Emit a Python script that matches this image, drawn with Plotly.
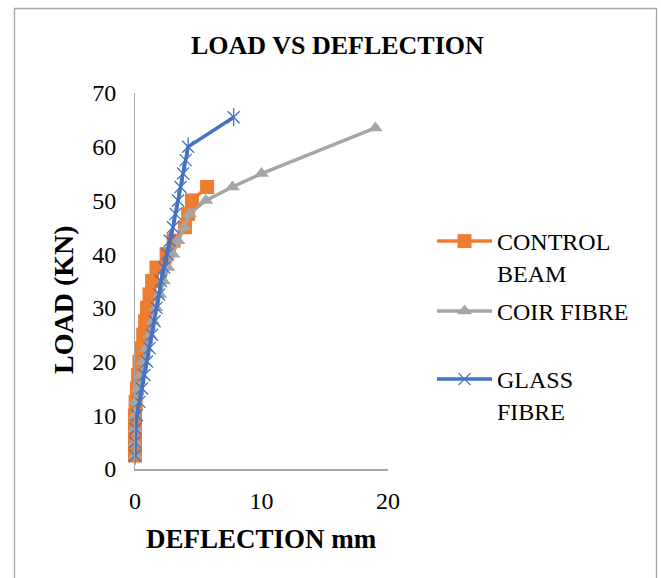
import plotly.graph_objects as go

# ---- data ----
control_load = [2.5, 5, 7.5, 10, 12.5, 15, 17.5, 20, 22.5, 25, 27.5, 30, 32.5, 35,
                37.5, 40, 42.5, 45, 47.5, 50, 52.5]
control_defl = [0, 0, 0, 0, 0.05, 0.15, 0.25, 0.35, 0.5, 0.65, 0.8, 0.95, 1.15, 1.35,
                1.7, 2.5, 3.05, 3.95, 4.2, 4.5, 5.7]

coir_load = [2.5, 5, 7.5, 10, 12.5, 15, 17.5, 20, 22.5, 25, 27.5, 30, 32.5, 35,
             37.5, 40, 42.5, 45, 47.5, 50, 52.5, 55, 63.5]
coir_defl = [0, 0, 0, 0, 0.05, 0.25, 0.45, 0.65, 0.9, 1.15, 1.4, 1.65, 1.95, 2.25,
             2.6, 3.0, 3.4, 3.9, 4.3, 5.6, 7.7, 10.0, 19.0]

glass_load = [2.5, 5, 7.5, 10, 12.5, 15, 17.5, 20, 22.5, 25, 27.5, 30, 32.5, 35,
              37.5, 40, 42.5, 45, 47.5, 50, 52.5, 55, 57.5, 60, 65.5]
glass_defl = [0, 0, 0.05, 0.15, 0.35, 0.55, 0.75, 0.95, 1.15, 1.35, 1.55, 1.7, 1.9, 2.05,
              2.3, 2.55, 2.75, 3.0, 3.2, 3.4, 3.6, 3.8, 4.0, 4.2, 7.8]

series_names = ["CONTROL<br>BEAM", "COIR FIBRE", "GLASS<br>FIBRE"]
x_ticks = [0, 10, 20]
y_ticks = [0, 10, 20, 30, 40, 50, 60, 70]

ORANGE = "#ED7D31"
GRAY = "#A5A5A5"
BLUE = "#4472C4"
FONT = "Liberation Serif, Times New Roman, serif"

W, H = 661, 578
L, R, T, B = 135, 273, 93, 109
PW, PH = W - L - R, H - T - B


def px(xp):
    return (xp - L) / PW


def py(yp):
    return (H - B - yp) / PH


fig = go.Figure()

fig.add_trace(go.Scatter(
    x=control_defl, y=control_load, name=series_names[0], mode="lines+markers",
    line=dict(color=ORANGE, width=3.5),
    marker=dict(symbol="square", size=14, color=ORANGE),
    cliponaxis=False, legend="legend"))

fig.add_trace(go.Scatter(
    x=coir_defl, y=coir_load, name=series_names[1], mode="lines+markers",
    line=dict(color=GRAY, width=3.5),
    marker=dict(symbol="triangle-up", size=13, color=GRAY),
    cliponaxis=False, legend="legend2"))

fig.add_trace(go.Scatter(
    x=glass_defl, y=glass_load, name=series_names[2], mode="lines+markers",
    line=dict(color=BLUE, width=3.5),
    marker=dict(symbol="x-thin-open", size=12, color=BLUE, line=dict(color=BLUE, width=1.3)),
    cliponaxis=False, legend="legend3"))

fig.add_trace(go.Scatter(
    x=glass_defl, y=glass_load, mode="markers", showlegend=False, hoverinfo="skip",
    marker=dict(symbol="line-ns-open", size=13, color=BLUE, line=dict(color=BLUE, width=1.3)),
    cliponaxis=False))

leg_common = dict(font=dict(family=FONT, size=24, color="black"), bgcolor="rgba(0,0,0,0)",
                  xanchor="left", yanchor="top", valign="top", itemwidth=55,
                  itemclick=False, itemdoubleclick=False)

fig.update_layout(
    width=W, height=H,
    margin=dict(l=L, r=R, t=T, b=B, pad=0),
    paper_bgcolor="white", plot_bgcolor="white",
    font=dict(family=FONT, color="black"),
    showlegend=True,
    legend=dict(x=px(432), y=py(219), **leg_common),
    legend2=dict(x=px(432), y=py(289), **leg_common),
    legend3=dict(x=px(432), y=py(357), **leg_common),
    xaxis=dict(range=[0, 20], tickvals=x_ticks, ticktext=[str(v) for v in x_ticks],
               showgrid=False, zeroline=False, showline=True, linecolor="#A6A6A6",
               linewidth=2, ticks="", ticklabelstandoff=9,
               tickfont=dict(family=FONT, size=24, color="black")),
    yaxis=dict(range=[0, 70], tickvals=y_ticks, ticktext=[str(v) for v in y_ticks],
               showgrid=False, zeroline=False, showline=True, linecolor="#A6A6A6",
               linewidth=1, ticks="", ticklabelstandoff=13,
               tickfont=dict(family=FONT, size=24, color="black")),
    shapes=[dict(type="rect", xref="paper", yref="paper",
                 x0=px(14.5), x1=px(656.5), y0=py(610), y1=py(8.5),
                 line=dict(color="#A6A6A6", width=1.3), fillcolor="rgba(0,0,0,0)",
                 layer="below")],
    annotations=[
        dict(text="<b>LOAD VS DEFLECTION</b>", xref="paper", yref="paper",
             x=px(337.5), y=py(45), xanchor="center", yanchor="middle", showarrow=False,
             font=dict(family=FONT, size=26, color="black")),
        dict(text="<b>DEFLECTION mm</b>", xref="paper", yref="paper",
             x=px(261.5), y=py(539), xanchor="center", yanchor="middle", showarrow=False,
             font=dict(family=FONT, size=27, color="black")),
        dict(text="<b>LOAD (KN)</b>", xref="paper", yref="paper", textangle=-90,
             x=px(63), y=py(300), xanchor="center", yanchor="middle", showarrow=False,
             font=dict(family=FONT, size=28, color="black")),
    ],
)

fig.write_html("out.html")
